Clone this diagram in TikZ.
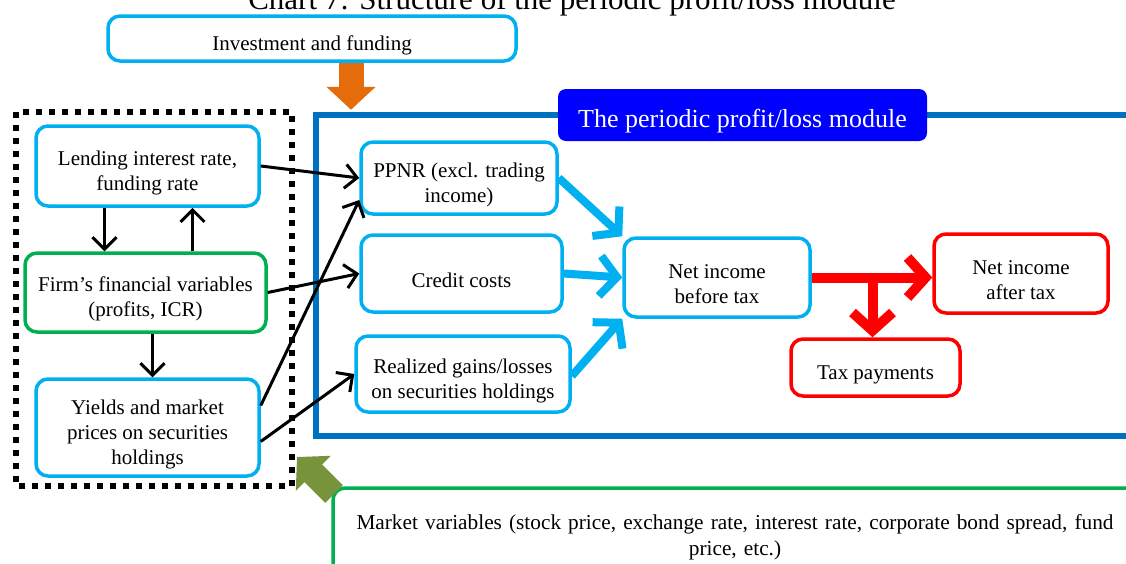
\documentclass[tikz,border=0pt]{standalone}
\usepackage{fontspec}
\setmainfont{Liberation Serif}
\usetikzlibrary{arrows.meta}

\definecolor{skyline}{RGB}{0,176,240}
\definecolor{leafgreen}{RGB}{0,176,80}
\definecolor{modblue}{RGB}{0,112,192}
\definecolor{deepblue}{RGB}{0,0,255}
\definecolor{fundorange}{RGB}{228,108,10}
\definecolor{olivegreen}{RGB}{119,147,60}

% extra room above the first line, so text sits a little low in its box
\newcommand{\lift}{\rule{0pt}{28pt}}

\begin{document}
\begin{tikzpicture}[x=1pt,y=-1pt,
    every node/.style={font=\fontsize{21}{25}\selectfont},
    box/.style={draw,line width=3.5pt,rounded corners=12pt,align=center,inner sep=0pt},
    cyanbox/.style={box,draw=skyline},
    greenbox/.style={box,draw=leafgreen},
    redbox/.style={box,draw=red},
    link/.style={line width=3pt,-{Straight Barb[length=12pt,width=24pt]}},
    flow/.style={skyline,line width=8pt,-{Straight Barb[length=17pt,width=40pt]}},
    taxflow/.style={red,line width=10pt,-{Straight Barb[length=18pt,width=40pt]}},
    blockarrow/.style={line width=25pt,-{Triangle[length=23pt,width=48pt]}}]

  \useasboundingbox (0,0) rectangle (1126,563);
  \clip (0,0) rectangle (1126,563);

  % heading, mostly above the page
  \node[font=\fontsize{31}{36}\selectfont,anchor=base] (chart) at (572,9)
    {Chart 7: Structure of the periodic profit/loss module};

  \node[cyanbox,minimum width=408pt,minimum height=45pt] (invest) at (312,38.5)
    {\lift Investment and funding};

  % frame of the module
  \draw[modblue,line width=6pt] (1140,115) -- (316,115) -- (316,436) -- (1140,436);
  \node[fill=deepblue,rounded corners=8pt,inner sep=0pt,text=white,
        font=\fontsize{26}{30}\selectfont,
        minimum width=369pt,minimum height=52pt] (modtitle) at (742.5,115)
    {\rule{0pt}{30pt}The periodic profit/loss module};

  \draw[blockarrow,fundorange] ([xshift=39pt]invest.south) -- ++(0,47);

  % dotted group on the left
  \draw[line width=6pt,dash pattern=on 6pt off 7pt] (16,112) rectangle (292,486);

  \node[cyanbox,minimum width=223pt,minimum height=80pt] (lend) at (147.5,166)
    {\lift Lending interest rate,\\funding rate};
  \node[greenbox,minimum width=241pt,minimum height=79pt] (firm) at (145.5,292.5)
    {\lift Firm's financial variables\\(profits, ICR)};
  \node[cyanbox,minimum width=223pt,minimum height=97pt] (yields) at (147.5,427.5)
    {\lift Yields and market\\prices on securities\\holdings};

  \node[cyanbox,minimum width=196pt,minimum height=72pt] (ppnr) at (459,178)
    {\lift PPNR (excl. trading\\income)};
  \node[cyanbox,minimum width=201pt,minimum height=77pt] (credit) at (461.5,273.5)
    {\lift Credit costs};
  \node[cyanbox,minimum width=214pt,minimum height=76pt] (realized) at (463,374)
    {\lift Realized gains/losses\\on securities holdings};

  \node[cyanbox,minimum width=186pt,minimum height=79pt] (nibt) at (717,277.5)
    {\lift Net income\\before tax};
  \node[redbox,minimum width=174pt,minimum height=79pt] (niat) at (1021,273.5)
    {\lift Net income\\after tax};
  \node[redbox,minimum width=169pt,minimum height=57pt] (tax) at (875.5,367.5)
    {\lift Tax payments};

  % links inside the group
  \draw[link] ([xshift=-43pt]lend.south) -- ([xshift=-43pt]lend.south |- firm.north);
  \draw[link] ([xshift=45pt]lend.south |- firm.north) -- ([xshift=45pt]lend.south);
  \draw[link] ([xshift=7pt]firm.south) -- ([xshift=7pt]firm.south |- yields.north);

  % links into the module
  \draw[link] (lend.east) -- (ppnr.west);
  \draw[link] (firm.east) -- (credit.west);
  \draw[link] ([yshift=22pt]yields.east) -- ([yshift=-22pt]ppnr.west);
  \draw[link] ([yshift=-14pt]yields.east) -- (realized.west);

  \draw[flow] (ppnr.east) -- (nibt.north west);
  \draw[flow] (credit.east) -- (nibt.west);
  \draw[flow] ([yshift=-2pt]realized.east) -- (nibt.south west);

  \coordinate (split) at ([xshift=-3pt]tax.north |- nibt.east);
  \draw[taxflow] (nibt.east) -- (nibt.east -| niat.west);
  \draw[taxflow] (split) -- ([xshift=-3pt]tax.north);

  % market variables below
  \draw[leafgreen,line width=3.5pt,rounded corners=12pt] (1140,488) -- (333,488) -- (333,580);
  \node[text width=790pt,align=center,font=\fontsize{21.3}{26}\selectfont] (market) at (735,537)
    {Market variables (stock price, exchange rate, interest rate, corporate bond spread, fund\\
     price, etc.)};

  \coordinate (mkttail) at (334,494);
  \coordinate (mkttip) at (297,457);
  \draw[blockarrow,olivegreen] (mkttail) -- (mkttip);

\end{tikzpicture}
\end{document}
